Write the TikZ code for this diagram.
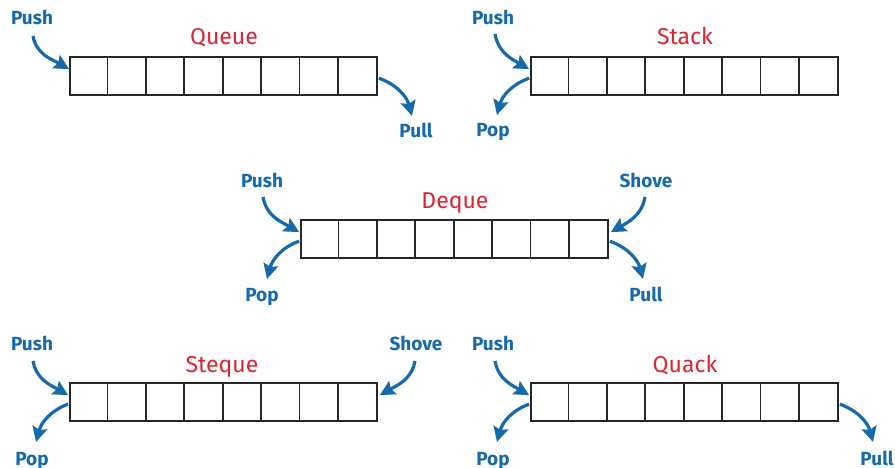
\documentclass[tikz,border=0pt]{standalone}
\usepackage{fontspec}
\setmainfont{Fira Sans}
\usetikzlibrary{arrows.meta,calc}
\definecolor{opblue}{RGB}{22,106,170}
\definecolor{titlered}{RGB}{216,38,48}
\tikzset{
  cellrow/.style={draw=black!85,line width=1.7pt,minimum width=307pt,minimum height=38pt,inner sep=0pt,fill=white},
  cellline/.style={draw=black!85,line width=1.7pt},
  oplabel/.style={text=opblue,font=\fontsize{19}{19}\selectfont\bfseries,anchor=base,inner sep=0pt},
  dstitle/.style={text=titlered,font=\fontsize{23}{23}\selectfont,anchor=base,inner sep=0pt},
  oparrow/.style={draw=opblue,line width=3.2pt,-{Stealth[length=15pt,width=15pt,inset=2.5pt]}},
}
\newcommand\dsrow[3]{% name, left x, top y
  \node[cellrow] (#1) at (#2+153.5,#3+19) {};
  \foreach \i in {1,...,7}
    \draw[cellline] ($(#1.north west)+(\i*38.375,0)$) -- ($(#1.south west)+(\i*38.375,0)$);
}
\begin{document}
\begin{tikzpicture}[x=1pt,y=-1pt]
\useasboundingbox (0,0) rectangle (895,468);

% ---------- Queue ----------
\dsrow{queue}{70}{57}
\node[dstitle] (queuet) at (224,45) {Queue};
\node[oplabel] (queuepush) at (32,25) {Push};
\node[oplabel] (queuepull) at (416,138) {Pull};
\coordinate (queuepushs) at (33,36);
\coordinate (queuepullt) at (412,116);
\draw[oparrow] (queuepushs) to[out=-80,in=150] ($(queue.north west)+(0,13)$);
\draw[oparrow] ($(queue.north east)+(1,22)$) to[out=-20,in=105] (queuepullt);

% ---------- Stack ----------
\dsrow{stack}{531}{57}
\node[dstitle] (stackt) at (685,45) {Stack};
\node[oplabel] (stackpush) at (493,25) {Push};
\node[oplabel] (stackpop) at (493,137) {Pop};
\coordinate (stackpushs) at (495,34);
\coordinate (stackpopt) at (497,115);
\draw[oparrow] (stackpushs) to[out=-80,in=150] ($(stack.north west)+(-1,13)$);
\draw[oparrow] ($(stack.north west)+(-1,22)$) to[out=200,in=75] (stackpopt);

% ---------- Deque ----------
\dsrow{deque}{301}{220}
\node[dstitle] (dequet) at (455,208) {Deque};
\node[oplabel] (dequepush) at (262,188) {Push};
\node[oplabel] (dequeshove) at (646,188) {Shove};
\node[oplabel] (dequepop) at (262,301) {Pop};
\node[oplabel] (dequepull) at (646,301) {Pull};
\coordinate (dequepushs) at (263,197);
\coordinate (dequeshoves) at (645,197);
\coordinate (dequepopt) at (267,279);
\coordinate (dequepullt) at (643,279);
\draw[oparrow] (dequepushs) to[out=-80,in=150] ($(deque.north west)+(-1,13)$);
\draw[oparrow] (dequeshoves) to[out=-100,in=30] ($(deque.north east)+(2,13)$);
\draw[oparrow] ($(deque.north west)+(-1,22)$) to[out=200,in=75] (dequepopt);
\draw[oparrow] ($(deque.north east)+(1,22)$) to[out=-20,in=105] (dequepullt);

% ---------- Steque ----------
\dsrow{steque}{70}{383}
\node[dstitle] (stequet) at (222,372) {Steque};
\node[oplabel] (stequepush) at (32,350) {Push};
\node[oplabel] (stequeshove) at (416,350) {Shove};
\node[oplabel] (stequepop) at (32,465) {Pop};
\coordinate (stequepushs) at (33,361);
\coordinate (stequeshoves) at (415,361);
\coordinate (stequepopt) at (36,442);
\draw[oparrow] (stequepushs) to[out=-80,in=150] ($(steque.north west)+(-1,13)$);
\draw[oparrow] (stequeshoves) to[out=-100,in=30] ($(steque.north east)+(2,13)$);
\draw[oparrow] ($(steque.north west)+(-1,22)$) to[out=200,in=75] (stequepopt);

% ---------- Quack ----------
\dsrow{quack}{531}{383}
\node[dstitle] (quackt) at (685,372) {Quack};
\node[oplabel] (quackpush) at (493,350) {Push};
\node[oplabel] (quackpop) at (493,465) {Pop};
\node[oplabel] (quackpull) at (877,465) {Pull};
\coordinate (quackpushs) at (495,361);
\coordinate (quackpopt) at (497,442);
\coordinate (quackpullt) at (873,442);
\draw[oparrow] (quackpushs) to[out=-80,in=150] ($(quack.north west)+(-1,13)$);
\draw[oparrow] ($(quack.north west)+(-1,22)$) to[out=200,in=75] (quackpopt);
\draw[oparrow] ($(quack.north east)+(1,22)$) to[out=-20,in=105] (quackpullt);
\end{tikzpicture}
\end{document}
